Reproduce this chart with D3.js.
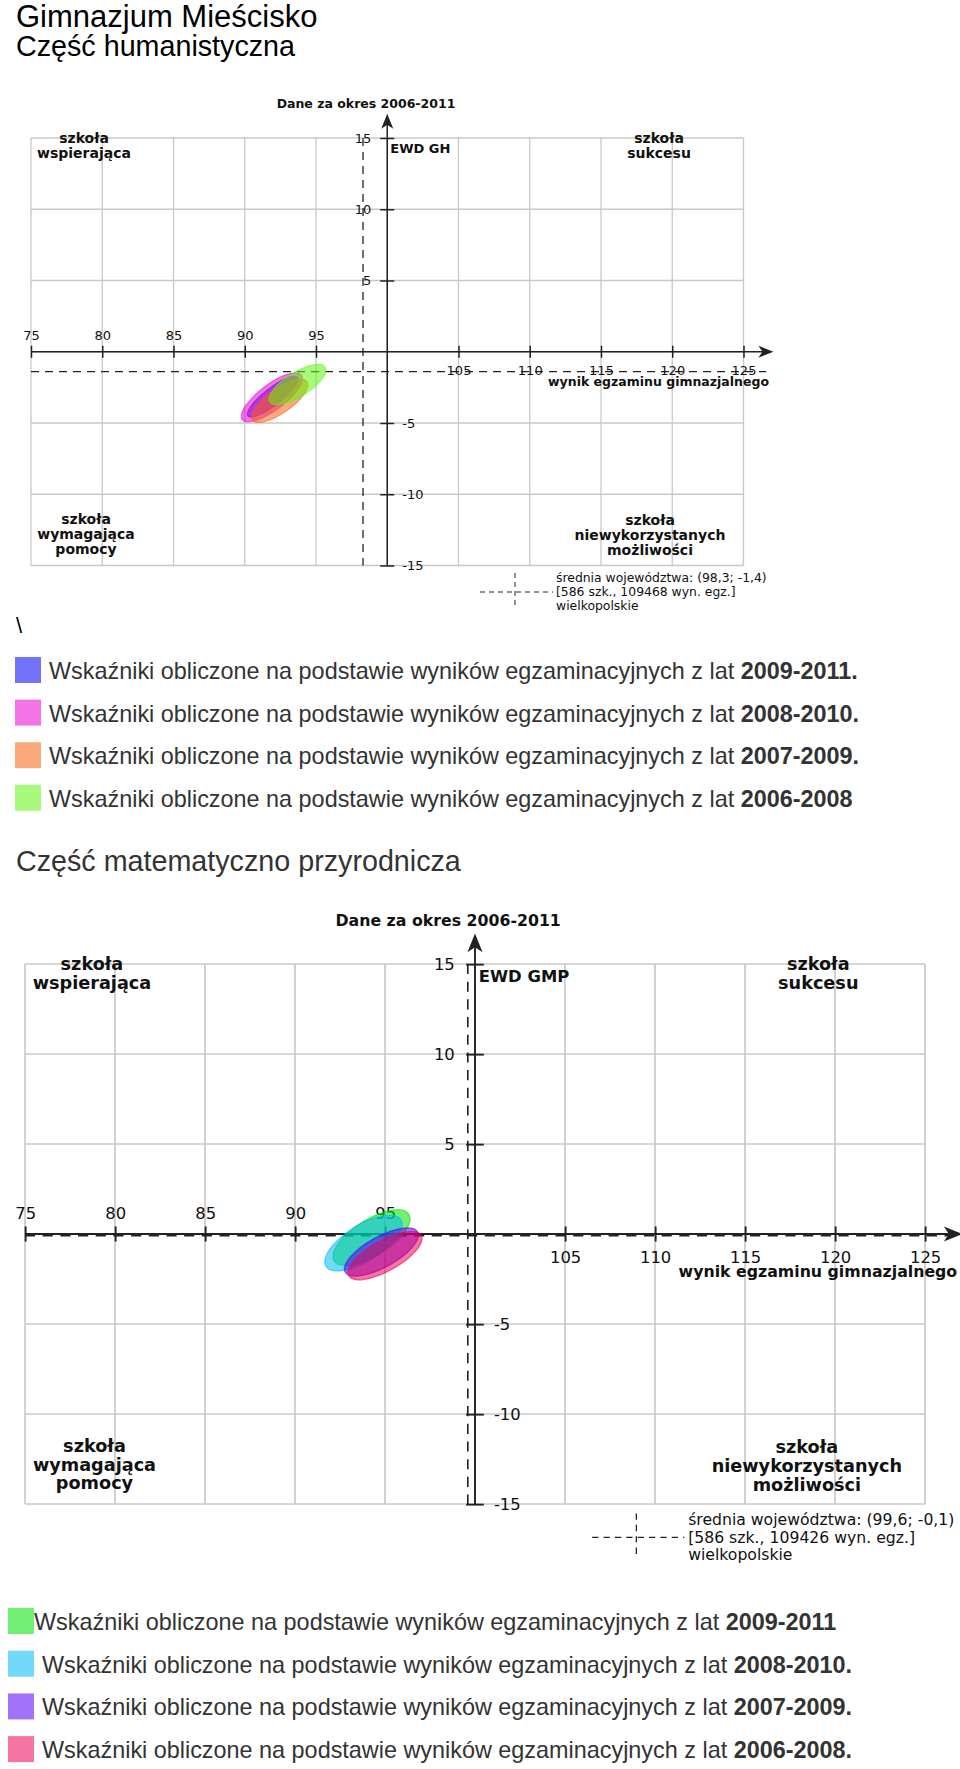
<!DOCTYPE html>
<html>
<head>
<meta charset="utf-8">
<script src="https://cdn.jsdelivr.net/npm/d3@7"></script>
<style>
  body { margin: 0; background: #fff; }
  svg { display: block; }
</style>
</head>
<body>
<script>
// periods, in legend order (also drawing order)
var periods = ["2009-2011", "2008-2010", "2007-2009", "2006-2008"];

// część humanistyczna (EWD GH): ellipse centre, half axes, tilt
var ghX = [91.95, 91.9, 92.45, 93.7];
var ghY = [-3.15, -3.2, -3.45, -2.3];
var ghA = [2.2, 2.6, 2.35, 2.3];
var ghB = [0.6, 0.9, 0.85, 0.85];
var ghTilt = [38, 37, 35, 32];
var ghMean = [98.3, -1.4];
var ghCount = [586, 109468];

// część matematyczno-przyrodnicza (EWD GMP)
var gmpX = [94.25, 93.8, 94.8, 95.0];
var gmpY = [-0.2, -0.5, -1.0, -1.2];
var gmpA = [2.45, 2.45, 2.3, 2.3];
var gmpB = [1.0, 1.0, 0.85, 0.85];
var gmpTilt = [32, 32, 29, 29];
var gmpMean = [99.6, -0.1];
var gmpCount = [586, 109426];

var xTickVals = [75, 80, 85, 90, 95, 105, 110, 115, 120, 125];
var yTickVals = [15, 10, 5, -5, -10, -15];

var ghColors = ["#0000f5", "#eb00cd", "#f56111", "#5ff50f"];
var gmpColors = ["#00e100", "#00b9f5", "#5500f5", "#eb0155"];

var chartFont = "DejaVu Sans, Verdana, sans-serif";
var pageFont = "Liberation Sans, Arial, sans-serif";

var svg = d3.select("body").append("svg")
  .attr("width", 960)
  .attr("height", 1769);

svg.append("rect").attr("width", 960).attr("height", 1769).attr("fill", "#fff");

function fmt(v) {
  return String(v).replace(".", ",");
}

function drawChart(cfg) {
  var g = svg.append("g")
    .attr("transform", "translate(" + cfg.left + "," + cfg.top + ") scale(" + cfg.k + ")");

  var x = d3.scaleLinear().domain([75, 125]).range([0, 712.5]);
  var y = d3.scaleLinear().domain([-15, 15]).range([427.5, 0]);

  // grid
  var grid = g.append("g").attr("stroke", "#c8c8c8").attr("stroke-width", 1.3);
  grid.selectAll(".gx").data(x.ticks(10)).join("line")
    .attr("x1", function(d) { return x(d); })
    .attr("x2", function(d) { return x(d); })
    .attr("y1", y(15)).attr("y2", y(-15));
  grid.selectAll(".gy").data(y.ticks(6)).join("line")
    .attr("y1", function(d) { return y(d); })
    .attr("y2", function(d) { return y(d); })
    .attr("x1", x(75)).attr("x2", x(125));

  // mean lines
  var dash = g.append("g").attr("stroke", "#222").attr("stroke-width", 1.3)
    .attr("stroke-dasharray", "8,6");
  dash.append("line")
    .attr("x1", x(cfg.mean[0])).attr("x2", x(cfg.mean[0]))
    .attr("y1", y(15)).attr("y2", y(-15));
  dash.append("line")
    .attr("x1", x(75)).attr("x2", x(126.6))
    .attr("y1", y(cfg.mean[1])).attr("y2", y(cfg.mean[1]));

  // axis lines + arrows
  var ax = g.append("g").attr("stroke", "#222").attr("stroke-width", 1.5);
  ax.append("line").attr("x1", x(75)).attr("x2", x(126.8)).attr("y1", y(0)).attr("y2", y(0));
  ax.append("line").attr("x1", x(100)).attr("x2", x(100)).attr("y1", y(-15)).attr("y2", y(16.5));
  var tx = x(127.1), ty = y(16.7);
  g.append("path")
    .attr("d", "M" + tx + "," + y(0) + "l-15,-6l4,6l-4,6z")
    .attr("fill", "#222");
  g.append("path")
    .attr("d", "M" + x(100) + "," + ty + "l-6,15l6,-4l6,4z")
    .attr("fill", "#222");

  var axisStyle = function(sel) {
    sel.select(".domain").remove();
    sel.attr("font-family", chartFont).attr("font-size", 13).attr("color", "#222");
    sel.selectAll("line").attr("stroke-width", 1.5);
    sel.selectAll("text").attr("fill", "#111");
  };

  g.append("g").attr("transform", "translate(0," + y(0) + ")")
    .call(d3.axisTop(x).tickValues(xTickVals.filter(function(v) { return v < 100; }))
      .tickSize(6).tickPadding(6).tickFormat(String))
    .call(axisStyle)
    .selectAll(".tick line").attr("y2", -6).attr("y1", 6);

  g.append("g").attr("transform", "translate(0," + y(0) + ")")
    .call(d3.axisBottom(x).tickValues(xTickVals.filter(function(v) { return v > 100; }))
      .tickSize(6).tickPadding(8).tickFormat(String))
    .call(axisStyle)
    .selectAll(".tick line").attr("y1", -6).attr("y2", 6);

  g.append("g").attr("transform", "translate(" + x(100) + ",0)")
    .call(d3.axisLeft(y).tickValues(yTickVals.filter(function(v) { return v > 0; }))
      .tickSize(7).tickPadding(9).tickFormat(String))
    .call(axisStyle)
    .selectAll(".tick line").attr("x1", 7).attr("x2", -7);

  g.append("g").attr("transform", "translate(" + x(100) + ",0)")
    .call(d3.axisRight(y).tickValues(yTickVals.filter(function(v) { return v < 0; }))
      .tickSize(7).tickPadding(8).tickFormat(String))
    .call(axisStyle)
    .selectAll(".tick line").attr("x1", -7).attr("x2", 7);

  // ellipses
  var ells = periods.map(function(p, i) {
    return { period: p, cx: cfg.cx[i], cy: cfg.cy[i], a: cfg.a[i], b: cfg.b[i], t: cfg.tilt[i], color: cfg.colors[i] };
  });
  g.append("g").selectAll("ellipse").data(ells).join("ellipse")
    .attr("cx", function(d) { return x(d.cx); })
    .attr("cy", function(d) { return y(d.cy); })
    .attr("rx", function(d) { return x(d.cx + d.a) - x(d.cx); })
    .attr("ry", function(d) { return y(d.cy) - y(d.cy + d.b); })
    .attr("transform", function(d) { return "rotate(" + (-d.t) + "," + x(d.cx) + "," + y(d.cy) + ")"; })
    .attr("fill", function(d) { return d.color; })
    .attr("fill-opacity", 0.55)
    .attr("stroke", function(d) { return d.color; })
    .attr("stroke-opacity", 0.6)
    .attr("stroke-width", 1);

  // labels
  var bold = g.append("g").attr("font-family", chartFont).attr("font-weight", "bold").attr("fill", "#111");
  bold.append("text").attr("x", 335).attr("y", -30).attr("text-anchor", "middle")
    .attr("font-size", 12.5).text("Dane za okres 2006-2011");
  bold.append("text").attr("x", x(100) + 3).attr("y", 14.5)
    .attr("font-size", 13).text(cfg.axisName);
  bold.append("text").attr("x", 738).attr("y", 248).attr("text-anchor", "end")
    .attr("font-size", 12.5).text("wynik egzaminu gimnazjalnego");

  var quads = [
    { x: 53, y: 5, lines: ["szkoła", "wspierająca"] },
    { x: 628, y: 5, lines: ["szkoła", "sukcesu"] },
    { x: 55, y: 386, lines: ["szkoła", "wymagająca", "pomocy"] },
    { x: 619, y: 387, lines: ["szkoła", "niewykorzystanych", "możliwości"] }
  ];
  quads.forEach(function(q) {
    var t = bold.append("text").attr("text-anchor", "middle").attr("font-size", 14);
    q.lines.forEach(function(l, i) {
      t.append("tspan").attr("x", q.x).attr("y", q.y + i * 15).text(l);
    });
  });

  // mean legend
  var leg = g.append("g").attr("font-family", chartFont).attr("font-size", 12.4).attr("fill", "#111");
  leg.append("text").attr("x", 525).attr("y", 444)
    .text("średnia województwa: (" + fmt(cfg.mean[0]) + "; " + fmt(cfg.mean[1]) + ")");
  leg.append("text").attr("x", 525).attr("y", 458)
    .text("[" + cfg.count[0] + " szk., " + cfg.count[1] + " wyn. egz.]");
  leg.append("text").attr("x", 525).attr("y", 472).text("wielkopolskie");
  var mini = g.append("g").attr("stroke", "#222").attr("stroke-width", 1).attr("stroke-dasharray", "5,4");
  mini.append("line").attr("x1", 449).attr("x2", 522).attr("y1", 454).attr("y2", 454);
  mini.append("line").attr("x1", 484).attr("x2", 484).attr("y1", 435).attr("y2", 471);
}

drawChart({
  left: 31, top: 138, k: 1,
  cx: ghX, cy: ghY, a: ghA, b: ghB, tilt: ghTilt, colors: ghColors,
  mean: ghMean, count: ghCount, axisName: "EWD GH"
});

drawChart({
  left: 25, top: 964, k: 18 / 14.25,
  cx: gmpX, cy: gmpY, a: gmpA, b: gmpB, tilt: gmpTilt, colors: gmpColors,
  mean: gmpMean, count: gmpCount, axisName: "EWD GMP"
});

// page texts
var page = svg.append("g").attr("font-family", pageFont);
page.append("text").attr("x", 16).attr("y", 27).attr("font-size", 31).attr("fill", "#000")
  .text("Gimnazjum Mieścisko");
page.append("text").attr("x", 16).attr("y", 56).attr("font-size", 28.7).attr("fill", "#000")
  .text("Część humanistyczna");
page.append("text").attr("x", 16).attr("y", 633).attr("font-size", 22).attr("fill", "#000")
  .text("\\");
page.append("text").attr("x", 16).attr("y", 871).attr("font-size", 28.7).attr("fill", "#333")
  .text("Część matematyczno przyrodnicza");

function drawLegend(cfg) {
  var rows = periods.map(function(p, i) { return { period: p, color: cfg.colors[i], i: i }; });
  var row = svg.append("g").selectAll("g").data(rows).join("g")
    .attr("transform", function(d) { return "translate(0," + (cfg.y0 + d.i * cfg.step) + ")"; });
  row.append("rect")
    .attr("x", cfg.sx).attr("y", -13).attr("width", 26).attr("height", 26)
    .attr("fill", function(d) { return d.color; })
    .attr("fill-opacity", 0.55);
  var t = row.append("text")
    .attr("x", function(d) { return cfg.tx[d.i]; })
    .attr("y", 9)
    .attr("font-family", pageFont).attr("font-size", 23.4).attr("fill", "#333");
  t.append("tspan").text("Wskaźniki obliczone na podstawie wyników egzaminacyjnych z lat ");
  t.append("tspan").attr("font-weight", "bold")
    .text(function(d) { return d.period + (cfg.dot[d.i] ? "." : ""); });
}

drawLegend({ y0: 670, step: 42.6, sx: 15, tx: [49, 49, 49, 49], colors: ghColors, dot: [1, 1, 1, 0] });
drawLegend({ y0: 1621, step: 42.7, sx: 8, tx: [34, 42, 42, 42], colors: gmpColors, dot: [0, 1, 1, 1] });
</script>
</body>
</html>
